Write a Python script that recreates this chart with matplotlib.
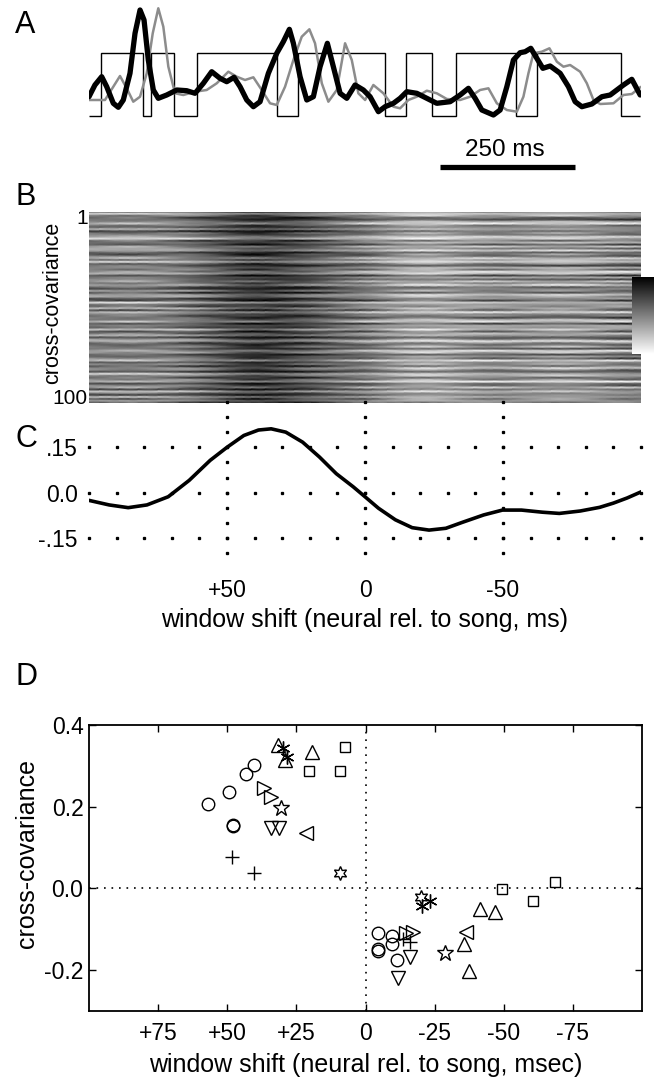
import numpy as np
import matplotlib
matplotlib.use('Agg')
import matplotlib.pyplot as plt

plt.rcParams['font.family'] = ['Liberation Sans', 'DejaVu Sans']
plt.rcParams['axes.unicode_minus'] = False

##########
# A: song envelope + neural traces (time in ms, amplitude a.u.)
##########
song_edges = [0, 21.7, 100.6, 114.8, 158, 199.5, 347.6, 387.6, 548.2, 587.1,
              635.8, 679.7, 790.2, 830.3, 985.3, 1020.5]
song_on = [0, 6.3, 0, 6.3, 0, 6.3, 0, 6.3, 0, 6.3, 0, 6.3, 0, 6.3, 0]

t_black = [0, 11, 23.5, 32.8, 45, 54.3, 63.5, 75.9, 85.2, 94.5, 101.9, 109.8, 119.1,
           128.3, 143.9, 162.4, 180.9, 196.3, 211.7, 227.2, 242.6, 255, 268.5, 279.7,
           292.1, 304.3, 316.7, 332.1, 347.6, 359.8, 371, 378.4, 390.8, 403.2, 415.4,
           427.8, 441.3, 452.4, 464.9, 477.3, 492.6, 508, 520.4, 535.8, 548.2, 563.6,
           576, 588.4, 606.9, 625.4, 643.9, 668.6, 687.1, 702.5, 714.9, 727.3, 748.8,
           761.2, 773.6, 785.8, 798.2, 807.5, 818, 829.1, 840.3, 853.8, 872.3, 887.7,
           900.1, 912.5, 931, 949.5, 964.9, 989.5, 1005, 1020.5]
y_black = [1.93, 3.1, 3.93, 2.93, 1.27, 0.87, 1.6, 4.27, 8.27, 10.6, 9.6, 5.6, 2.6,
           1.77, 2.1, 2.6, 2.53, 2.27, 3.27, 4.43, 3.77, 3.43, 3.87, 2.93,
           1.6, 0.93, 1.43, 4.27, 6.27, 7.43, 8.67, 7.27, 3.93, 1.6, 1.93,
           4.93, 7.27, 4.93, 2.27, 1.77, 3.1, 2.6, 1.93, 0.43, 0.93, 1.27,
           1.77, 2.43, 2.27, 1.77, 1.27, 1.43, 2.1, 2.77, 1.77, 0.6, 0.1,
           0.6, 2.93, 5.6, 6.33, 6.43, 6.77, 5.77, 4.77, 5.0, 4.27, 2.93,
           1.43, 0.93, 1.2, 1.93, 2.1, 3.1, 3.67, 2.1]

t_gray = [1.9, 29.6, 45, 57.4, 69.8, 82, 94.5, 106.9, 118, 128.3, 137.6, 146.9, 159.3,
          174.6, 196.3, 217.9, 236.5, 258, 273.5, 288.9, 304.3, 319.8, 335.2, 347.6,
          363, 378.4, 393.9, 408, 418.5, 431, 443.2, 458.7, 474.1, 486.5, 498.7, 511.2,
          526.5, 545, 563.6, 576, 591.3, 606.9, 625.4, 643.9, 662.4, 687.1, 705.6,
          724.1, 739.5, 755.1, 773.6, 792.1, 804.3, 813.6, 822.8, 838.4, 852.5, 866.2,
          878.4, 890.8, 909.3, 921.7, 934, 946.4, 971, 989.5, 1005, 1020.5]
y_gray = [1.6, 1.6, 2.93, 4.0, 2.77, 1.43, 1.93, 4.27, 8.27, 10.77, 8.93, 4.93, 2.27,
          2.1, 2.43, 2.6, 3.27, 4.43, 3.93, 3.6, 3.87, 2.6, 1.27, 1.1,
          2.93, 5.6, 7.93, 8.67, 7.27, 3.27, 1.43, 2.6, 7.27, 5.6, 2.27, 1.6,
          3.1, 2.27, 0.93, 0.77, 1.6, 1.93, 2.53, 2.27, 1.7, 1.6, 1.93,
          2.6, 2.77, 1.27, 0.6, 0.43, 1.93, 4.27, 6.27, 6.43, 6.77, 5.43,
          4.93, 5.1, 4.43, 3.27, 1.6, 1.2, 1.27, 2.1, 2.2, 2.87]

scale_bar = [650, 900]

##########
# C: mean cross-covariance vs window shift
##########
c_x = [100, 92.7, 85.8, 79, 71.3, 63.7, 56.1, 50, 43.9, 38.6, 34, 28.7, 22.6, 16.5,
       10.4, 4.3, 0, -4.9, -11, -17.1, -23.2, -29.3, -35.4, -43, -49.8, -56.7,
       -64.3, -70.4, -78, -85, -90, -95, -100]
c_val = [-0.025, -0.040, -0.049, -0.040, -0.013, 0.041, 0.107, 0.150, 0.189, 0.207,
         0.211, 0.200, 0.167, 0.118, 0.063, 0.020, -0.013, -0.051, -0.089, -0.115,
         -0.123, -0.117, -0.097, -0.073, -0.057, -0.057, -0.064, -0.068, -0.060,
         -0.048, -0.034, -0.017, 0.003]

##########
# B: 100 resampled cross-covariance rows (level, tilt and ripple of each streak)
##########
row_offset = [0.06, -0.11, -0.04, 0.09, 0.12, -0.02, -0.13, 0.03, 0.07, -0.08,
              0.13, 0.01, 0.04, -0.10, -0.14, 0.08, -0.03, 0.11, -0.06, 0.02,
              -0.12, 0.10, 0.05, 0.07, -0.09, 0.00, -0.15, 0.06, 0.12, -0.04,
              0.03, -0.07, -0.11, 0.14, -0.01, 0.09, -0.06, 0.04, -0.13, 0.10,
              0.08, -0.02, 0.12, -0.09, -0.05, 0.06, 0.13, -0.12, 0.01, 0.05,
              -0.08, 0.11, -0.14, 0.02, 0.07, 0.10, -0.04, -0.10, 0.13, -0.01,
              0.04, -0.12, 0.09, 0.00, -0.07, 0.14, 0.03, -0.15, 0.06, 0.08,
              -0.03, 0.11, -0.10, -0.06, 0.12, 0.02, 0.07, -0.13, 0.05, -0.02,
              0.10, -0.09, 0.03, 0.13, -0.11, -0.04, 0.08, 0.01, -0.14, 0.09,
              0.05, -0.06, 0.12, -0.12, 0.02, 0.10, -0.08, 0.06, -0.03, 0.11]
row_tilt = [0.03, -0.05, 0.06, 0.00, -0.08, 0.04, 0.07, -0.02, 0.05, -0.06,
            0.08, 0.02, -0.04, 0.06, -0.07, 0.01, 0.09, -0.03, 0.04, -0.09,
            0.05, -0.01, 0.07, -0.06, 0.02, 0.08, -0.04, 0.03, -0.08, 0.06,
            -0.02, 0.09, 0.01, -0.05, 0.07, -0.09, 0.04, 0.00, 0.06, -0.03,
            0.08, -0.07, 0.02, 0.05, -0.04, 0.09, -0.01, -0.06, 0.03, 0.07,
            -0.08, 0.04, 0.06, -0.02, 0.01, -0.09, 0.08, 0.03, -0.05, 0.05,
            0.07, -0.03, 0.00, 0.09, -0.06, 0.02, -0.08, 0.06, 0.04, -0.01,
            0.05, -0.07, 0.08, 0.01, -0.04, 0.06, -0.09, 0.03, 0.07, -0.02,
            0.04, 0.09, -0.05, 0.02, -0.08, 0.06, 0.00, -0.03, 0.08, 0.05,
            -0.06, 0.03, 0.07, -0.04, 0.01, 0.09, -0.07, 0.05, -0.02, 0.06]
row_wave = [0.04, -0.02, 0.06, -0.05, 0.01, 0.03, -0.06, 0.05, -0.01, 0.02,
            -0.04, 0.06, 0.00, -0.03, 0.05, -0.06, 0.02, 0.04, -0.05, 0.01,
            0.03, -0.04, 0.06, 0.02, -0.06, 0.04, -0.01, 0.05, -0.03, 0.00,
            0.06, -0.05, 0.02, 0.04, -0.02, 0.01, -0.06, 0.03, 0.05, -0.04,
            -0.01, 0.05, -0.06, 0.02, 0.04, -0.03, 0.06, -0.02, 0.00, -0.05,
            0.03, 0.06, -0.04, 0.01, -0.05, 0.04, 0.02, -0.06, 0.05, -0.01,
            -0.03, 0.04, 0.06, -0.05, 0.02, -0.02, 0.05, 0.00, -0.06, 0.03,
            0.05, -0.01, -0.04, 0.06, -0.03, 0.02, 0.04, -0.05, 0.01, 0.06,
            -0.06, 0.03, 0.05, -0.02, 0.00, 0.04, -0.05, 0.06, -0.03, 0.02,
            0.04, -0.06, 0.01, 0.05, -0.04, 0.03, -0.02, 0.06, 0.00, -0.05]
col_wave = [0.0, 0.9, 1.5, 0.8, -0.4, -1.3, -0.9, 0.2, 1.2, 1.4, 0.4, -0.6, -1.4,
            -1.0, 0.0, 1.0, 1.5, 0.9, -0.3, -1.2, -1.4, -0.4, 0.6, 1.4, 1.0, 0.0,
            -0.9, -1.4, -0.8, 0.3, 1.2, 1.4, 0.6]
row_gain = 0.6

##########
# D: peak / trough per cell, one marker per bird
##########
circ_x = [57.1, 49.3, 43.3, 40.3, 48.1, 48.0, -4.5, -9.6, -4.5, -4.7, -9.6, -11.4]
circ_y = [0.206, 0.236, 0.280, 0.302, 0.155, 0.152, -0.110, -0.117, -0.149, -0.152, -0.136, -0.174]
up_x = [31.6, 29.2, 19.3, -41.5, -46.7, -35.6, -37.6]
up_y = [0.351, 0.314, 0.334, -0.051, -0.057, -0.135, -0.202]
dn_x = [34.0, 31.4, -16.0, -11.7]
dn_y = [0.147, 0.147, -0.167, -0.220]
lt_x = [21.4, -36.2]
lt_y = [0.135, -0.106]
rt_x = [36.8, 34.0, -14.8, -17.2]
rt_y = [0.247, 0.223, -0.109, -0.106]
sq_x = [7.3, 20.3, 9.3, -49.5, -60.5, -68.4]
sq_y = [0.347, 0.287, 0.287, -0.002, -0.030, 0.015]
plus_x = [48.2, 40.3, -13.5, -16.0]
plus_y = [0.077, 0.037, -0.125, -0.131]
ast_x = [30.0, 28.4, -20.4, -23.4]
ast_y = [0.343, 0.322, -0.043, -0.030]
pent_x = [30.4, -28.6]
pent_y = [0.196, -0.159]
hex_x = [9.3, -20.2]
hex_y = [0.038, -0.021]


def box(l, t, r, b):
    return [l / 660, 1 - b / 1079, (r - l) / 660, (b - t) / 1079]


fig = plt.figure(figsize=(6.6, 10.79), dpi=100)

# ---- A
axA = fig.add_axes(box(89, 0, 641, 175))
axA.axis('off')
axA.stairs(song_on, song_edges, baseline=None, color='k', lw=1.0)
axA.plot(t_gray, y_gray, color='#8c8c8c', lw=1.8, solid_joinstyle='round')
axA.plot(t_black, y_black, color='k', lw=3.8, solid_joinstyle='round', solid_capstyle='round')
axA.plot(scale_bar, [-5.07, -5.07], color='k', lw=3.8, solid_capstyle='butt')
axA.text(np.mean(scale_bar) - 5, -3.4, '250 ms', fontsize=17.5, ha='center', va='center')
axA.set_xlim(0, 1022)
axA.set_ylim(-5.9, 11.6)

# ---- B
axB = fig.add_axes(box(89, 212, 641, 403))
rows = np.arange(1, 101)
M = (row_gain * np.array(c_val)[None, :] + np.array(row_offset)[:, None]
     + np.array(row_tilt)[:, None] * np.array(c_x)[None, :] / 100
     + np.array(row_wave)[:, None] * np.array(col_wave)[None, :])
mesh = axB.pcolormesh(c_x, rows, M, shading='gouraud', cmap='gray_r', vmin=-0.26, vmax=0.28)
axB.set_xlim(100, -100)
axB.set_ylim(100, 1)
for s in axB.spines.values():
    s.set_visible(False)
axB.set_xticks([])
axB.set_yticks([3.4, 96.7])
axB.set_yticklabels(['1', '100'])
axB.tick_params(axis='y', length=0, labelsize=15, pad=1)
axB.set_ylabel('cross-covariance', fontsize=15.5)
axB.yaxis.set_label_coords(-0.065, 0.524)
axB.yaxis.label.set_va('center')

cax = fig.add_axes(box(632, 277, 654, 354))
cb = fig.colorbar(mesh, cax=cax)
cb.set_ticks([])
cb.outline.set_visible(False)

# ---- C
axC = fig.add_axes(box(89, 400, 641, 558))
axC.patch.set_alpha(0)
for s in axC.spines.values():
    s.set_visible(False)
grid_x = np.arange(-100, 101, 10)
grid_y = np.arange(-0.20, 0.301, 0.05)
for yv in [0.15, 0.0, -0.15]:
    axC.plot(grid_x, [yv] * len(grid_x), ls='none', marker='s', ms=1.4, color='k', clip_on=False)
for xv in [50, 0, -50]:
    axC.plot([xv] * len(grid_y), grid_y, ls='none', marker='s', ms=1.4, color='k', clip_on=False)
axC.plot(c_x, c_val, color='k', lw=2.6)
axC.set_xlim(100, -100)
axC.set_ylim(-0.215, 0.306)
axC.set_xticks([50, 0, -50])
axC.set_xticklabels(['+50', '0', '-50'])
axC.set_yticks([0.15, 0.0, -0.15])
axC.set_yticklabels(['.15', '0.0', '-.15'])
axC.tick_params(axis='x', length=0, labelsize=16.5, pad=15)
axC.tick_params(axis='y', length=0, labelsize=16.5, pad=8)
axC.set_xlabel('window shift (neural rel. to song, ms)', fontsize=18)
axC.xaxis.set_label_coords(0.5, -0.392)
axC.xaxis.label.set_va('center')

# ---- D
axD = fig.add_axes(box(89, 725, 642, 1011))
axD.axhline(0, color='k', lw=1.2, ls=(0, (1, 3.5)))
axD.axvline(0, color='k', lw=1.2, ls=(0, (1, 3.5)))
mk = dict(ls='none', mfc='none', mec='k', mew=1.0)
axD.plot(circ_x, circ_y, marker='o', ms=9, **mk)
axD.plot(up_x, up_y, marker='^', ms=10, **mk)
axD.plot(dn_x, dn_y, marker='v', ms=10, **mk)
axD.plot(lt_x, lt_y, marker='<', ms=10, **mk)
axD.plot(rt_x, rt_y, marker='>', ms=10, **mk)
axD.plot(sq_x, sq_y, marker='s', ms=7, **mk)
axD.plot(plus_x, plus_y, marker='+', ms=10, **mk)
axD.plot(ast_x, ast_y, marker=(6, 2, 0), ms=10, **mk)
axD.plot(pent_x, pent_y, marker='*', ms=12, **mk)
axD.plot(hex_x, hex_y, marker=(6, 1, 0), ms=10, **mk)
axD.set_xlim(100, -100)
axD.set_ylim(-0.3, 0.4)
axD.set_xticks([75, 50, 25, 0, -25, -50, -75])
axD.set_xticklabels(['+75', '+50', '+25', '0', '-25', '-50', '-75'])
axD.set_yticks([0.4, 0.2, 0.0, -0.2])
axD.set_yticklabels(['0.4', '0.2', '0.0', '-0.2'])
axD.tick_params(direction='in', top=True, right=True, length=5, width=1, labelsize=16.5)
axD.tick_params(axis='x', pad=8)
axD.tick_params(axis='y', pad=4)
for s in axD.spines.values():
    s.set_linewidth(1.3)
axD.set_xlabel('window shift (neural rel. to song, msec)', fontsize=18)
axD.xaxis.set_label_coords(0.5, -0.189)
axD.xaxis.label.set_va('center')
axD.set_ylabel('cross-covariance', fontsize=18)
axD.yaxis.set_label_coords(-0.112, 0.549)
axD.yaxis.label.set_va('center')

# panel letters
for lab, (px, py) in zip('ABCD', [(25, 25), (26, 197), (26, 439), (27, 677)]):
    fig.text(px / 660, 1 - py / 1079, lab, fontsize=22, ha='center', va='center')

fig.savefig('out.png', dpi=100)
